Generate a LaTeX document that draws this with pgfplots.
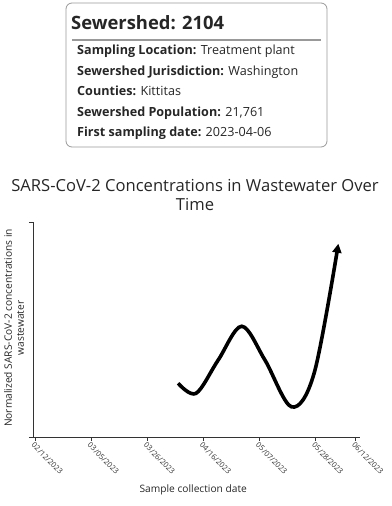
\documentclass[border=0pt]{standalone}
\usepackage{fontspec}
\setmainfont{Open Sans}
\usepackage{pgfplots}
\pgfplotsset{compat=1.18}
\usetikzlibrary{arrows.meta}
\begin{document}
\begin{tikzpicture}
\useasboundingbox (0,0) rectangle (391pt,-506pt);
% info box
\draw[rounded corners=6pt, draw=black!40, line width=0.8pt] (66pt,-3pt) rectangle (327pt,-147pt);
\node[anchor=base west, font=\fontsize{18.4}{22}\selectfont\bfseries, text=black!85, inner sep=0] at (71pt,-29pt) {Sewershed: 2104};
\draw[black!40, line width=1.5pt] (72pt,-40pt) -- (321pt,-40pt);
\begin{scope}[every node/.style={anchor=base west, inner sep=0, text=black!85, font=\fontsize{12.6}{16}\selectfont}]
\node at (77pt,-54.5pt) {\textbf{Sampling Location:} Treatment plant};
\node at (77pt,-75pt) {\textbf{Sewershed Jurisdiction:} Washington};
\node at (77pt,-95.5pt) {\textbf{Counties:} Kittitas};
\node at (77pt,-116pt) {\textbf{Sewershed Population:} 21,761};
\node at (77pt,-136.5pt) {\textbf{First sampling date:} 2023-04-06};
\end{scope}
% chart title
\node[anchor=base, inner sep=0, font=\fontsize{16.6}{19}\selectfont, text=black!85] at (195pt,-191.7pt) {SARS-CoV-2 Concentrations in Wastewater Over};
\node[anchor=base, inner sep=0, font=\fontsize{16.6}{19}\selectfont, text=black!85] at (195pt,-210pt) {Time};
% y label
\node[rotate=90, align=center, inner sep=0, font=\fontsize{10.2}{12}\selectfont, text=black!85] at (14pt,-328pt) {Normalized SARS-CoV-2 concentrations in\\wastewater};
\begin{axis}[
  at={(35pt,-437pt)}, anchor=origin,
  scale only axis, width=327pt, height=215pt,
  xmin=-0.75, xmax=121.7, ymin=0, ymax=1,
  axis lines=left, axis line style={-, black!80, line width=0.8pt},
  xtick={0,21,42,63,84,105,120},
  xticklabels={02/12/2023,03/05/2023,03/26/2023,04/16/2023,05/07/2023,05/28/2023,06/12/2023},
  xticklabel style={rotate=-45, anchor=north west, font=\fontsize{7.6}{8}\selectfont, text=black!80, inner sep=0.5pt},
  ytick={0,1}, yticklabels={},
  tick align=outside, major tick length=4pt,
  tick style={black!80, line width=0.6pt},
  xlabel={Sample collection date},
  xlabel style={font=\fontsize{10.2}{12}\selectfont, text=black!85, at={(0.49,0)}, anchor=base, yshift=-55pt},
  clip=false,
]
\addplot[black, line width=3.6pt, smooth, tension=0.55, -{Triangle[length=9pt,width=9pt]}] coordinates {
(53.6,0.250) (60.3,0.203) (68.6,0.358) (77.4,0.515) (86.1,0.358) (96.1,0.140) (104.6,0.300) (113.6,0.899)
};
\end{axis}
\end{tikzpicture}
\end{document}
